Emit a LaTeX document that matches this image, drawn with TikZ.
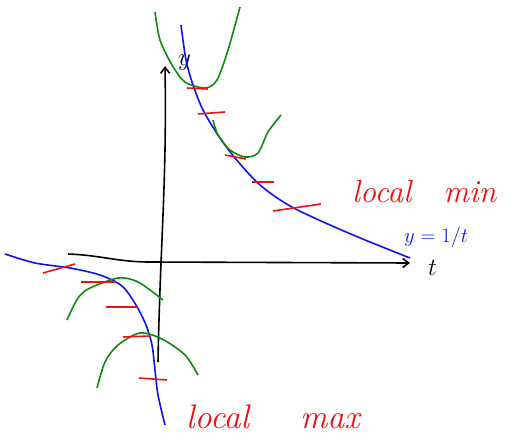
\documentclass[tikz,border=0pt]{standalone}
\usetikzlibrary{arrows.meta}
\definecolor{skBlue}{HTML}{0A14F0}
\definecolor{skGreen}{HTML}{0E8A0E}
\definecolor{skRed}{HTML}{F01010}

\begin{document}
\begin{tikzpicture}[x=1pt,y=-1pt,
  axis/.style={black, line width=1.6pt, -{Straight Barb[length=6pt,width=9pt]}},
  hyper/.style={skBlue, line width=1.6pt},
  parab/.style={skGreen, line width=1.6pt},
  tang/.style={skRed, line width=1.6pt},
  lbl/.style={inner sep=0pt, anchor=base west}]
  \useasboundingbox (0,0) rectangle (513,441);
  % axes
  \draw[axis] (158,362) to[out=89,in=-89] (165,66);
  \draw[axis] (68,254) to[out=-2,in=180] (150,262) -- (410,263);
  \node[lbl, font=\fontsize{30}{30}\selectfont] (tlbl) at (428,275) {$t$};
  \node[lbl, font=\fontsize{28}{28}\selectfont] (ylbl) at (178,66) {$y$};
  % y = 1/t
  \draw[hyper] plot[smooth] coordinates {(181,25) (186,60) (193,85) (203,110)
    (218,135) (235,158) (260,185) (290,206) (330,225) (370,242) (410,258)};
  \draw[hyper] plot[smooth] coordinates {(5,254) (35,263) (70,268) (100,275)
    (122,286) (136,305) (146,325) (152,345) (155,370) (158,395) (165,425)};
  % local min parabolas
  \draw[parab] plot[smooth] coordinates {(155,12) (160,40) (172,65) (185,82)
    (205,88) (217,80) (228,50) (240,7)};
  \draw[parab] plot[smooth] coordinates {(213,120) (218,135) (230,150)
    (245,157) (258,153) (268,132) (281,115)};
  % local max parabolas
  \draw[parab] plot[smooth] coordinates {(67,320) (78,298) (90,288) (118,278)
    (136,281) (150,290) (163,300)};
  \draw[parab] plot[smooth] coordinates {(97,388) (105,362) (118,345)
    (140,333) (162,339) (185,355) (198,375)};
  % tangent marks
  \foreach \xa/\ya/\xb/\yb in {187/88/208/89, 198/114/225/112, 225/155/246/159,
      252/182/274/182, 273/211/321/204, 43/273/75/264, 81/282/115/282,
      106/307/138/307, 123/337/150/336, 139/378/167/380}
    \draw[tang] (\xa,\ya) -- (\xb,\yb);
  % labels
  \node[lbl, skRed, font=\fontsize{32}{32}\selectfont\itshape] (minlbl) at (352,202) {local\hspace{1em}min};
  \node[lbl, skBlue, font=\fontsize{22}{22}\selectfont] (eqlbl) at (404,242) {$y=1/t$};
  \node[lbl, skRed, font=\fontsize{34}{34}\selectfont\itshape] (maxlbl) at (186,428) {local\hspace{1.5em}max};
\end{tikzpicture}
\end{document}
